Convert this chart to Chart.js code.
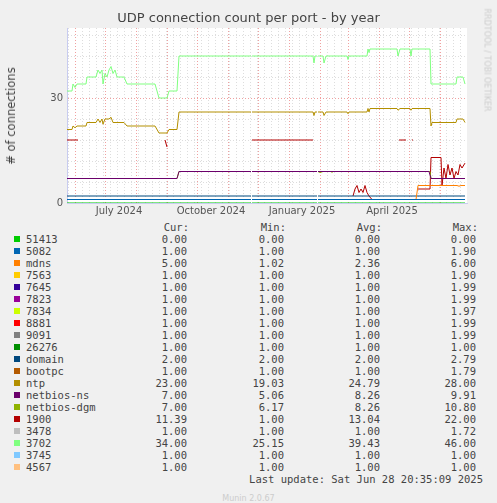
<!DOCTYPE html>
<html><head><meta charset="utf-8">
<script src="https://cdn.jsdelivr.net/npm/chart.js@4/dist/chart.umd.min.js"></script>
<style>
body{margin:0;background:#F0F0F0;width:497px;height:503px;position:relative;overflow:hidden;font-family:"DejaVu Sans",sans-serif;}
#wrap{position:absolute;left:0;top:0;width:497px;height:220px;}
#title{position:absolute;top:10px;left:0;width:497px;text-align:center;font-size:13px;color:#444;}
#ylab{position:absolute;left:11px;top:116px;transform:translate(-50%,-50%) rotate(-90deg);font-size:11.5px;color:#444;white-space:nowrap;}
#rrd{position:absolute;left:487px;top:60px;transform:translate(-50%,-50%) rotate(90deg);font-size:8px;color:#ccc;white-space:nowrap;}
#leg{position:absolute;left:0;top:220px;width:497px;height:270px;font-family:"DejaVu Sans Mono",monospace;font-size:10.5px;color:#444;}
.r{position:absolute;height:12px;line-height:12px;white-space:nowrap;}
.sw{position:absolute;width:6px;height:6px;}
#munin{position:absolute;top:494px;left:0;width:497px;text-align:center;font-size:8px;color:#ccc;}
</style></head><body>
<div id="wrap"><canvas id="c" width="497" height="220" style="width:497px;height:220px"></canvas></div>
<div id="title">UDP connection count per port - by year</div>
<div id="ylab"># of connections</div>
<div id="rrd">RRDTOOL / TOBI OETIKER</div>
<div id="leg"></div>
<div id="munin">Munin 2.0.67</div>
<script>
// x = days since 2024-05-24
const tickLabels = [[52,"July 2024"],[144,"October 2024"],[235,"January 2025"],[325,"April 2025"]];
const monthStarts = [8,38,69,100,130,161,191,222,253,281,312,342,373];
const names = ["51413","5082","mdns","7563","7645","7823","7834","8881","9091","26276","domain","bootpc","ntp","netbios-ns","netbios-dgm","1900","3478","3702","3745","4567"];
const colors = ["#00CC00","#0066B3","#FF8000","#FFCC00","#330099","#990099","#CCFF00","#FF0000","#808080","#008F00","#00487D","#B35A00","#B38F00","#6B006B","#8FB300","#B30000","#BEBEBE","#80FF80","#80C9FF","#FFC080"];
const cur = ["0.00","1.00","5.00","1.00","1.00","1.00","1.00","1.00","1.00","1.00","2.00","1.00","23.00","7.00","7.00","11.39","1.00","34.00","1.00","1.00"];
const mins = ["0.00","1.00","1.02","1.00","1.00","1.00","1.00","1.00","1.00","1.00","2.00","1.00","19.03","5.06","6.17","1.00","1.00","25.15","1.00","1.00"];
const avgs = ["0.00","1.00","2.36","1.00","1.00","1.00","1.00","1.00","1.00","1.00","2.00","1.00","24.79","8.26","8.26","13.04","1.00","39.43","1.00","1.00"];
const maxs = ["0.00","1.90","6.00","1.90","1.99","1.99","1.97","1.99","1.99","1.00","2.79","1.79","28.00","9.91","10.80","22.00","1.72","46.00","1.00","1.00"];

const flat0 = [[0,0],[184,0],[184.5,null],[185,0],[250,0],[250.5,null],[251,0],[398,0]];
const flat1 = [[0,1],[184,1],[184.5,null],[185,1],[250,1],[250.5,null],[251,1],[398,1]];
const flat2 = [[0,2],[184,2],[184.5,null],[185,2],[250,2],[250.5,null],[251,2],[398,2]];
const mdns = [[0,1],[184,1],[184.5,null],[185,1],[250,1],[250.5,null],[251,1],[349,1],[351,5],[390,5],[392,4.8],[394,5],[398,5]];
const port4567 = [[0,1],[184,1],[184.5,null],[185,1],[250,1],[250.5,null],[251,1],[398,1]];
const ntp = [[0,21],[5,21],[6,22],[8,21.5],[10,22],[19,22],[20,23],[29,23],[31,24],[33,23],[35,24],[36,22.5],[38,24],[42,24],[44,24.5],[46,23],[50,23],[57,23],[60,22],[88,22],[92,20],[100,20],[102,21],[110,21],[112,26],[184,26],[184.5,null],[185,26],[246,26],[247,25],[248,26],[250,26],[250.5,null],[251,26],[256,26],[257,25],[259,26],[280,26],[281,25.5],[282,26],[300,26],[301,27],[302,26],[303,27],[330,27],[331,26.5],[333,27],[343,27],[344,26.5],[345,27],[363,27],[364,22],[365,23],[389,23],[390,24],[396,24],[398,23]];
const nbns = [[0,7],[110,7],[112,9],[184,9],[184.5,null],[185,9],[250,9],[250.5,null],[251,9],[362,9],[364,7],[398,7]];
const nbdgm = [[0,7],[110,7],[112,9],[184,9],[184.5,null],[185,9],[250,9],[250.5,null],[251,9],[253,8.7],[256,9],[264,9],[265,8.7],[266,9],[363,9],[364,7],[398,7]];
const p1900 = [[0,18],[11,18],[12,null],[98,18],[100,16],[101,null],[185,18],[246,18],[247,null],[286,2],[288,4],[290,5],[292,3],[294,4],[296,3],[298,5],[300,3],[302,2],[305,1],[306,null],[332,18],[339,18],[339.5,null],[345,18],[346,18],[346.5,null],[351,4],[363,4],[364,13],[374,13],[375,5],[377,10],[379,7],[381,11],[383,8],[385,10],[387,7],[389,9],[391,8],[393,11],[395,10],[398,11.4]];
const p3702 = [[0,32],[5,32],[6,34],[8,33],[10,34],[19,34],[20,36],[29,36],[31,38],[33,37],[35,38],[36,34],[38,37],[40,36],[42,38],[44,39],[46,37],[48,38],[50,36],[57,36],[60,34],[88,34],[92,30],[100,30],[102,32],[110,32],[112,42],[184,42],[184.5,null],[185,42],[246,42],[247,40],[248,42],[250,42],[250.5,null],[251,42],[256,42],[257,40],[259,42],[280,42],[281,41],[282,42],[300,42],[301,44],[302,43],[303,44],[330,44],[331,42],[333,44],[343,44],[344,42],[345,44],[363,44],[364,34],[389,34],[390,36],[396,36],[398,34]];

const seriesData = [flat0,flat1,mdns,flat1,flat1,flat1,flat1,flat1,flat1,flat1,flat2,flat1,ntp,nbns,nbdgm,p1900,flat1,p3702,flat1,port4567];

const datasets = names.map((n,i)=>({label:n,data:seriesData[i].map(p=>({x:p[0],y:p[1]})),borderColor:colors[i],borderWidth:1,pointRadius:0,fill:false,tension:0,spanGaps:false}));

const xTicks = [];
for(let d=1; d<400; d+=7) xTicks.push({value:d,kind:'w'});
monthStarts.forEach(v=>xTicks.push({value:v,kind:'m'}));
tickLabels.forEach(t=>xTicks.push({value:t[0],kind:'l',label:t[1]}));
xTicks.sort((a,b)=>a.value-b.value);

new Chart(document.getElementById('c'),{
  type:'line',
  data:{datasets},
  options:{
    animation:false,responsive:false,
    layout:{padding:{top:28,right:30,left:0,bottom:0}},
    plugins:{legend:{display:false},tooltip:{enabled:false}},
    scales:{
      x:{type:'linear',min:0,max:400,
        afterFit:s=>{s.height=17;},
        afterBuildTicks:s=>{s.ticks=xTicks.map(t=>({value:t.value}));},
        ticks:{autoSkip:false,maxRotation:0,padding:2,color:'#555',font:{family:'DejaVu Sans',size:10},
          callback:function(v,i){const t=xTicks[i];return t&&t.kind==='l'?t.label:'';}},
        grid:{drawTicks:false,color:c=>{const t=xTicks[c.index];if(!t)return 'rgba(0,0,0,0)';return t.kind==='m'?'#F0A0A0':t.kind==='w'?'#DDDDDD':'rgba(0,0,0,0)';},lineWidth:1},
        border:{color:'#C8CCF0',dash:[1,2]}
      },
      y:{min:0,max:50,
        afterFit:s=>{s.width=67;},
        ticks:{stepSize:2,color:'#555',padding:4,font:{family:'DejaVu Sans',size:10},callback:v=>v%10===0?v:''},
        grid:{drawTicks:false,color:c=>c.tick&&c.tick.value%10===0?'#F0A0A0':'#DDDDDD',lineWidth:1},
        border:{color:'#C8CCF0',dash:[1,2]}
      }
    }
  },
  plugins:[{id:'bg',beforeDraw:ch=>{const a=ch.chartArea,g=ch.ctx;g.save();g.fillStyle='#fff';g.fillRect(a.left,a.top,a.right-a.left,a.bottom-a.top);g.restore();}}]
});
</script>
<script>
const leg=document.getElementById('leg');
let h='';
const colR=[187,284,380,476];
const head=['Cur:','Min:','Avg:','Max:'];
head.forEach((t,j)=>{h+=`<div class="r" style="top:1px;right:${497-colR[j]-2}px">${t}</div>`;});
names.forEach((n,i)=>{
  const top=13+i*12;
  h+=`<div class="sw" style="left:14px;top:${top+3}px;background:${colors[i]}"></div>`;
  h+=`<div class="r" style="left:26px;top:${top}px">${n}</div>`;
  [cur[i],mins[i],avgs[i],maxs[i]].forEach((v,j)=>{h+=`<div class="r" style="top:${top}px;right:${497-colR[j]}px">${v}</div>`;});
});
h+=`<div class="r" style="top:${13+20*12}px;right:${497-483}px">Last update: Sat Jun 28 20:35:09 2025</div>`;
leg.innerHTML=h;
</script>
</body></html>
